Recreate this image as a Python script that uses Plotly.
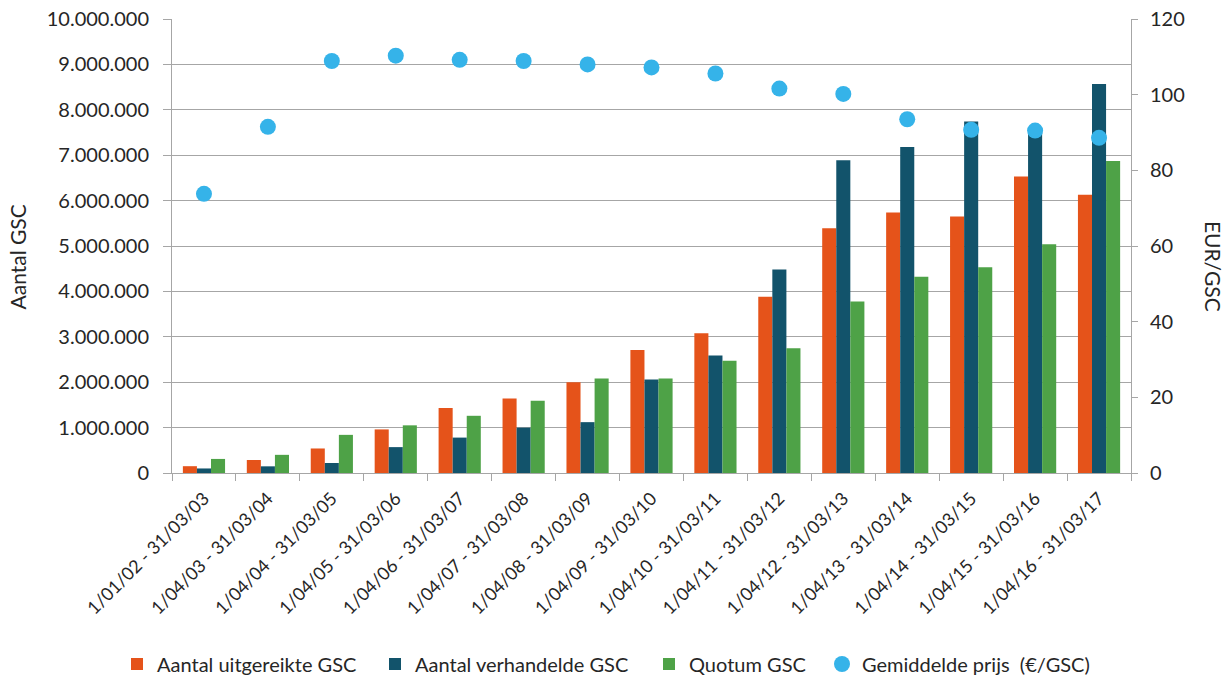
import plotly.graph_objects as go

periods = [
    "1/01/02 - 31/03/03", "1/04/03 - 31/03/04", "1/04/04 - 31/03/05",
    "1/04/05 - 31/03/06", "1/04/06 - 31/03/07", "1/04/07 - 31/03/08",
    "1/04/08 - 31/03/09", "1/04/09 - 31/03/10", "1/04/10 - 31/03/11",
    "1/04/11 - 31/03/12", "1/04/12 - 31/03/13", "1/04/13 - 31/03/14",
    "1/04/14 - 31/03/15", "1/04/15 - 31/03/16", "1/04/16 - 31/03/17",
]

uitgereikt = [150000, 286000, 540000, 960000, 1430000, 1640000, 2000000,
              2710000, 3080000, 3880000, 5390000, 5740000, 5650000, 6530000, 6130000]
verhandeld = [100000, 147000, 220000, 570000, 780000, 1000000, 1120000,
              2060000, 2590000, 4480000, 6890000, 7180000, 7740000, 7600000, 8570000]
quotum = [310000, 400000, 840000, 1050000, 1260000, 1590000, 2080000,
          2080000, 2470000, 2750000, 3780000, 4320000, 4530000, 5040000, 6870000]
prijs = [73.8, 91.5, 108.9, 110.3, 109.2, 108.9, 108.0, 107.2, 105.6,
         101.6, 100.2, 93.5, 90.7, 90.5, 88.6]

FONT = "Lato"
TXT = "#262626"
GRID = "#a6a6a6"

fig = go.Figure()
fig.add_trace(go.Bar(x=periods, y=uitgereikt, name="Aantal uitgereikte GSC",
                     marker=dict(color="#e5531a", line_width=0), legend="legend"))
fig.add_trace(go.Bar(x=periods, y=verhandeld, name="Aantal verhandelde GSC",
                     marker=dict(color="#12536b", line_width=0), legend="legend2"))
fig.add_trace(go.Bar(x=periods, y=quotum, name="Quotum GSC",
                     marker=dict(color="#4ea247", line_width=0), legend="legend3"))
fig.add_trace(go.Scatter(x=periods, y=prijs, name="Gemiddelde prijs  (€/GSC)",
                         mode="markers", yaxis="y2", legend="legend4",
                         marker=dict(color="#35b3e9", size=16)))


def legend_at(px_left):
    # one single-entry legend per series, placed along the bottom row
    return dict(orientation="h", xref="container", yref="container",
                x=px_left / 1231, xanchor="left", y=1 - 664 / 677, yanchor="middle",
                font=dict(size=20, color=TXT), itemwidth=30,
                bgcolor="rgba(0,0,0,0)", borderwidth=0)


fig.update_layout(
    width=1231, height=677,
    margin=dict(l=172, r=100, t=19, b=204, autoexpand=False),
    paper_bgcolor="white", plot_bgcolor="white",
    font=dict(family=FONT, size=18, color=TXT),
    separators=",.",
    barmode="group", bargap=0.34, bargroupgap=0,
    showlegend=True,
    legend=legend_at(117),
    legend2=legend_at(375),
    legend3=legend_at(649),
    legend4=legend_at(822),
    xaxis=dict(type="category", range=[-0.5, len(periods) - 0.5],
               showgrid=False, showline=True,
               linecolor=GRID, linewidth=1, ticks="outside",
               tickson="boundaries", ticklen=7, tickcolor=GRID,
               tickangle=-45, tickfont=dict(size=18),
               ticklabelstandoff=7, automargin=False),
    yaxis=dict(range=[0, 10000000], dtick=1000000, tickformat=",d",
               showgrid=True, gridcolor=GRID, gridwidth=1,
               showline=True, linecolor=GRID, linewidth=1,
               ticks="outside", ticklen=8, tickcolor=GRID,
               zeroline=False, tickfont=dict(size=20),
               ticklabelstandoff=10, automargin=False),
    yaxis2=dict(range=[0, 120], dtick=20, overlaying="y", side="right",
                showgrid=False, showline=True, linecolor=GRID, linewidth=1,
                ticks="outside", ticklen=6, tickcolor=GRID,
                zeroline=False, tickfont=dict(size=20),
                ticklabelstandoff=8, automargin=False),
    annotations=[
        dict(text="Aantal GSC", xref="paper", yref="paper", x=-0.161, y=0.476,
             xanchor="center", yanchor="middle", textangle=-90,
             showarrow=False, font=dict(size=21, color=TXT)),
        dict(text="EUR/GSC", xref="paper", yref="paper", x=1.0855, y=0.454,
             xanchor="center", yanchor="middle", textangle=90,
             showarrow=False, font=dict(size=21, color=TXT)),
    ],
)

fig.write_html("out.html")
